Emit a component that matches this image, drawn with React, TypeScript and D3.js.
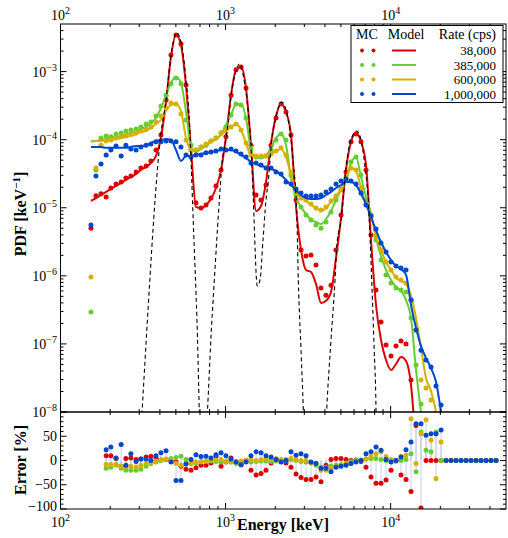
import React from 'react';
import * as d3 from 'd3';

// Energy bin centres (keV) of the MC histograms / model evaluation grid
const energyKeV = [153, 164, 176, 189, 202, 217, 233, 249, 267, 287, 307, 330, 353, 379, 406, 436, 467, 501, 537, 576, 618, 662, 710, 761, 816, 875, 939, 1006, 1079, 1157, 1241, 1330, 1426, 1530, 1640, 1758, 1886, 2022, 2168, 2324, 2492, 2672, 2865, 3072, 3294, 3532, 3787, 4060, 4354, 4668, 5005, 5367, 5755, 6170, 6616, 7094, 7606, 8155, 8745, 9377, 10055, 10782, 11561, 12396, 13291, 14252, 15281, 16385, 17569, 18838, 20199, 21658, 23224, 24901, 26700, 28629, 30698, 32915, 35294, 37844, 40577, 43509];

// Rates (legend)
const rateLabels = ['38,000', '385,000', '600,000', '1,000,000'];

// MC PDFs [keV^-1]
const redMc = [5.0e-6, 1.5e-5, 1.6e-5, 1.44e-5, 1.95e-5, 2.24e-5, 2.39e-5, 2.74e-5, 2.93e-5, 3.36e-5,
  3.84e-5, 4.11e-5, 4.87e-5, 7.06e-5, 1.17e-4, 3.83e-4, 1.75e-3, 3.45e-3, 2.55e-3, 6.36e-4,
  7.06e-5, 1.18e-5, 9.9e-6, 1.1e-5, 1.39e-5, 2.09e-5, 3.6e-5, 1.1e-4, 4.5e-4, 1.06e-3,
  1.17e-3, 5.75e-4, 8.3e-5, 1.54e-5, 1.3e-5, 2.16e-5, 8.3e-5, 2.08e-4, 3.35e-4, 2.55e-4,
  1.17e-4, 1.3e-5, 2.4e-6, 1.95e-6, 2.02e-6, 1.44e-6, 6.6e-7, 5.2e-7, 7.3e-7, 2.4e-6,
  7.8e-6, 3.36e-5, 9.3e-5, 1.21e-4, 9.3e-5, 3.6e-5, 3.97e-6, 6.2e-7, 2.1e-7, 9.6e-8,
  6.65e-8, 9.3e-8, 1.1e-7, 1.0e-7, 2.95e-8];
const greenMc = [2.94e-7, 3.6e-5, 1.06e-4, 1.13e-4, 1.1e-4, 1.21e-4, 1.25e-4, 1.34e-4, 1.39e-4, 1.44e-4,
  1.54e-4, 1.7e-4, 1.82e-4, 2.23e-4, 3.13e-4, 4.5e-4, 6.6e-4, 8.06e-4, 6.6e-4, 1.95e-4,
  8.3e-5, 7.06e-5, 7.8e-5, 8.3e-5, 9.6e-5, 1.06e-4, 1.25e-4, 1.54e-4, 2.31e-4, 3.35e-4,
  3.24e-4, 2.08e-4, 7.6e-5, 5.57e-5, 5.57e-5, 5.77e-5, 7.06e-5, 9.9e-5, 1.21e-4, 9.9e-5,
  3.03e-5, 1.54e-5, 1.03e-5, 7.8e-6, 6.6e-6, 5.57e-6, 5.0e-6, 6.17e-6, 8.66e-6, 1.3e-5,
  1.83e-5, 2.56e-5, 4.7e-5, 5.57e-5, 3.03e-5, 1.3e-5, 7.8e-6, 3.36e-6, 1.71e-6, 1.03e-6,
  7.85e-7, 6.6e-7, 6.2e-7, 5.8e-7, 2.4e-7, 4.9e-8, 1.31e-8];
const yellowMc = [9.6e-7, 3.84e-5, 8.3e-5, 9.6e-5, 9.9e-5, 1.06e-4, 1.1e-4, 1.13e-4, 1.21e-4, 1.25e-4,
  1.34e-4, 1.44e-4, 1.54e-4, 1.82e-4, 2.23e-4, 2.92e-4, 3.46e-4, 3.35e-4, 2.39e-4, 9.9e-5,
  7.06e-5, 7.06e-5, 7.8e-5, 8.66e-5, 9.6e-5, 1.06e-4, 1.25e-4, 1.39e-4, 1.54e-4, 1.7e-4,
  1.39e-4, 8.95e-5, 5.97e-5, 5.77e-5, 5.77e-5, 5.77e-5, 6.17e-5, 6.8e-5, 7.6e-5, 5.97e-5,
  3.36e-5, 1.83e-5, 1.39e-5, 1.3e-5, 1.14e-5, 9.9e-6, 9.3e-6, 1.03e-5, 1.26e-5, 1.49e-5,
  1.95e-5, 2.74e-5, 3.84e-5, 3.6e-5, 1.95e-5, 1.14e-5, 7.55e-6, 3.84e-6, 2.4e-6, 1.6e-6,
  1.22e-6, 9.6e-7, 8.7e-7, 7.85e-7, 4.4e-7, 1.6e-7, 2.95e-8, 2.25e-8, 1.5e-8];
const blueMc = [5.57e-6, 2.93e-5, 4.4e-5, 5.97e-5, 7.06e-5, 8.1e-5, 5.77e-5, 8.3e-5, 7.3e-5, 7.06e-5,
  7.8e-5, 8.3e-5, 8.66e-5, 9.3e-5, 9.3e-5, 9.6e-5, 9.6e-5, 9.3e-5, 7.8e-5, 5.97e-5,
  5.57e-5, 5.97e-5, 5.97e-5, 6.4e-5, 6.6e-5, 6.8e-5, 7.3e-5, 7.06e-5, 7.3e-5, 6.8e-5,
  6.17e-5, 5.57e-5, 4.55e-5, 4.55e-5, 4.25e-5, 3.84e-5, 3.84e-5, 3.36e-5, 3.14e-5, 2.39e-5,
  2.24e-5, 1.89e-5, 1.65e-5, 1.49e-5, 1.49e-5, 1.49e-5, 1.54e-5, 1.71e-5, 1.89e-5, 2.24e-5,
  2.48e-5, 2.65e-5, 2.48e-5, 2.24e-5, 1.65e-5, 1.1e-5, 7.55e-6, 4.87e-6, 3.03e-6, 2.24e-6,
  1.6e-6, 1.39e-6, 1.3e-6, 1.22e-6, 4.4e-7, 1.6e-7, 8.1e-8, 5.8e-8, 4.6e-8, 2.4e-8,
  1.27e-8];

// Model PDFs [keV^-1]
const redModel = [1.26e-5, 1.39e-5, 1.54e-5, 1.71e-5, 1.89e-5, 2.09e-5, 2.31e-5, 2.56e-5, 2.83e-5, 3.14e-5,
  3.6e-5, 3.97e-5, 4.55e-5, 5.77e-5, 1.06e-4, 3.58e-4, 1.64e-3, 3.45e-3, 2.46e-3, 6.15e-4,
  7.06e-5, 1.03e-5, 9.9e-6, 1.1e-5, 1.35e-5, 1.95e-5, 3.6e-5, 1.1e-4, 4.5e-4, 1.06e-3,
  1.17e-3, 5.75e-4, 8.3e-5, 8.95e-6, 1.06e-5, 2.39e-5, 8.95e-5, 2.23e-4, 3.35e-4, 2.55e-4,
  1.17e-4, 1.03e-5, 2.4e-6, 1.22e-6, 1.14e-6, 7.6e-7, 4.0e-7, 4.3e-7, 5.8e-7, 1.83e-6,
  7.1e-6, 3.6e-5, 9.3e-5, 1.25e-4, 9.3e-5, 4.25e-5, 3.36e-6, 3.73e-7, 1.14e-7, 5.8e-8,
  4.14e-8, 5.07e-8, 6.4e-8, 5.6e-8, 2.5e-8, 2.8e-9];
const greenModel = [9.3e-5, 9.6e-5, 9.9e-5, 1.02e-4, 1.06e-4, 1.1e-4, 1.13e-4, 1.21e-4, 1.25e-4, 1.34e-4,
  1.44e-4, 1.54e-4, 1.76e-4, 2.08e-4, 2.92e-4, 4.5e-4, 6.8e-4, 8.3e-4, 6.8e-4, 2.55e-4,
  7.6e-5, 6.6e-5, 7.3e-5, 8.1e-5, 9.3e-5, 1.02e-4, 1.21e-4, 1.64e-4, 2.31e-4, 3.35e-4,
  3.35e-4, 2.08e-4, 7.06e-5, 5.4e-5, 5.4e-5, 5.77e-5, 7.6e-5, 1.06e-4, 1.21e-4, 8.3e-5,
  2.74e-5, 1.39e-5, 1.03e-5, 8.1e-6, 6.6e-6, 6.17e-6, 5.77e-6, 6.8e-6, 8.95e-6, 1.3e-5,
  1.83e-5, 2.48e-5, 4.55e-5, 5.57e-5, 2.83e-5, 1.44e-5, 8.3e-6, 3.6e-6, 1.95e-6, 1.22e-6,
  8.7e-7, 6.85e-7, 6.0e-7, 4.4e-7, 2.4e-7, 4.14e-8, 1.0e-8, 2.8e-9];
const yellowModel = [9.6e-5, 9.6e-5, 9.6e-5, 9.9e-5, 9.9e-5, 1.02e-4, 1.06e-4, 1.1e-4, 1.13e-4, 1.21e-4,
  1.3e-4, 1.34e-4, 1.49e-4, 1.7e-4, 1.95e-4, 2.64e-4, 3.24e-4, 3.35e-4, 2.64e-4, 1.06e-4,
  7.06e-5, 6.8e-5, 7.6e-5, 8.3e-5, 9.6e-5, 1.02e-4, 1.17e-4, 1.34e-4, 1.54e-4, 1.7e-4,
  1.39e-4, 8.95e-5, 5.77e-5, 5.57e-5, 5.57e-5, 5.77e-5, 6.17e-5, 6.8e-5, 7.3e-5, 5.57e-5,
  3.03e-5, 1.71e-5, 1.39e-5, 1.26e-5, 1.1e-5, 9.9e-6, 8.95e-6, 9.9e-6, 1.22e-5, 1.49e-5,
  1.89e-5, 2.74e-5, 3.84e-5, 3.48e-5, 1.95e-5, 1.1e-5, 7.55e-6, 3.84e-6, 2.4e-6, 1.6e-6,
  1.22e-6, 9.3e-7, 8.4e-7, 7.6e-7, 5.05e-7, 2.4e-7, 8.7e-8, 3.16e-8, 2.03e-8, 1.0e-8,
  2.8e-9];
const blueModel = [7.8e-5, 7.8e-5, 7.8e-5, 7.6e-5, 7.6e-5, 7.6e-5, 7.6e-5, 7.6e-5, 7.8e-5, 8.1e-5,
  8.1e-5, 8.3e-5, 8.95e-5, 9.6e-5, 9.9e-5, 1.02e-4, 9.9e-5, 7.06e-5, 4.87e-5, 5.77e-5,
  5.77e-5, 5.97e-5, 6.17e-5, 6.4e-5, 6.6e-5, 6.8e-5, 7.06e-5, 7.06e-5, 7.06e-5, 6.6e-5,
  5.97e-5, 5.4e-5, 4.7e-5, 4.4e-5, 4.11e-5, 3.97e-5, 3.72e-5, 3.48e-5, 3.03e-5, 2.56e-5,
  2.16e-5, 1.83e-5, 1.54e-5, 1.39e-5, 1.35e-5, 1.35e-5, 1.39e-5, 1.54e-5, 1.71e-5, 1.95e-5,
  2.16e-5, 2.39e-5, 2.39e-5, 2.16e-5, 1.6e-5, 1.14e-5, 7.3e-6, 4.7e-6, 3.14e-6, 2.24e-6,
  1.71e-6, 1.39e-6, 1.26e-6, 1.03e-6, 3.73e-7, 1.71e-7, 9.3e-8, 6.2e-8, 4.4e-8, 2.76e-8,
  1.0e-8, 2.8e-9];

// Ideal (zero pile-up) spectrum, dashed
const idealEnergyKeV = [303, 339, 374, 401, 436, 467, 506, 545, 576, 601, 638, 671, 710, 740, 828, 917, 948, 1016, 1090, 1168, 1211, 1312, 1373, 1440, 1473, 1557, 1617, 1686, 1758, 1815, 1903, 2021, 2188, 2347, 2457, 2573, 2698, 2759, 2865, 2958, 3008, 4004, 4100, 4353, 4603, 4713, 5052, 5290, 5675, 6231, 6680, 6995, 7324, 7681, 7931, 8155, 8213];
const idealPdf = [2.8e-9, 3.15e-7, 1.3e-5, 9.6e-5, 3.83e-4, 1.75e-3, 3.69e-3, 2.3e-3, 7.5e-4, 2.31e-4, 5.77e-6, 2.24e-7, 2.8e-9, 2.8e-9, 2.4e-7, 1.3e-5, 3.97e-5, 1.21e-4, 5.2e-4, 1.09e-3, 1.29e-3, 6.15e-4, 2.55e-4, 5.0e-5, 1.3e-5, 7.1e-7, 8.7e-7, 3.36e-6, 1.3e-5, 2.48e-5, 9.6e-5, 2.16e-4, 3.58e-4, 2.47e-4, 1.34e-4, 4.4e-5, 8.95e-6, 8.7e-7, 8.1e-8, 1.07e-8, 2.8e-9, 2.8e-9, 1.07e-8, 1.14e-7, 8.7e-7, 2.65e-6, 7.55e-6, 2.83e-5, 8.95e-5, 1.34e-4, 8.95e-5, 3.97e-5, 1.3e-5, 8.7e-7, 9.6e-8, 1.07e-8, 2.8e-9];

// Relative error (model vs MC) [%], from the 4th energy bin onwards
const redErr = [10, 10, 4, -12, 4, 5, 2, 3, 7, 9, 5, 1, 2, 0, -3, -12, -18, -20, -15, -10, -10, -5, 8, -12, -3, 5, -5, -9, 0, -20, -30, -27, -20, -5, 3, 0, -5, -14, -28, -35, -39, -39, -34, -44, -10, 2, 4, 4, 2, 0, 1, -2, -14, -34, -47, -47, -40, -20, 0, -30, -39, -64, 72, -98, 0, 0, 0, 0, 0, 0, 0, 0, 0, 0, 0, 0, 0, 0, 0];
const greenErr = [-16, -14, -8, -16, -20, -20, -20, -18, -12, -6, -3, 0, 2, 4, 6, 9, 2, -6, -5, -3, -2, -1, -2, -3, -2, -3, -5, -4, -2, -3, -2, -1, -1, -2, -1, -1, 0, 2, 0, -2, -3, -5, -10, -14, -14, -12, -10, -8, -5, -2, 0, 1, 3, 4, 4, 2, 0, 0, 0, 0, 2, 14, -23, 59, 21, 18, 59, 0, 0, 0, 0, 0, 0, 0, 0, 0, 0, 0, 0];
const yellowErr = [-8, -8, -10, -12, -14, -12, -14, -10, -6, -4, -1, 1, 3, 0, -6, -10, -5, -5, -3, -2, -1, 0, 1, 2, -2, -3, -2, -1, 0, 1, 0, 2, 3, 2, 3, 2, 2, 4, 1, 0, 0, -4, -6, -20, -20, -16, -13, -10, -8, -6, -2, 0, 3, 8, 14, 18, 8, 2, -2, 8, 11, 86, -6, 55, 84, 42, -37, 38, 0, 0, 0, 0, 0, 0, 0, 0, 0, 0, 0];
const blueErr = [22, 28, 5, 33, -10, 14, -2, 3, 3, 0, 10, 16, 20, -3, -41, -41, -7, 2, 12, 8, 9, 5, 12, 16, 10, 3, -3, -9, -3, 10, 18, 16, 10, 7, 2, -3, 0, 18, 11, 14, 10, -3, -6, -16, -16, -23, -14, -12, -10, -6, -3, 0, 14, 18, 28, 21, 2, -3, 0, 7, 22, 38, 76, 76, 52, 55, 55, 63, 0, 0, 0, 0, 0, 0, 0, 0, 0, 0, 0];

// Axis ticks
const xMajorExps = [2, 3, 4];
const yMajorExps = [-8, -7, -6, -5, -4, -3];
const errTickValues = [-100, -50, 0, 50];

const COLORS = ['#dd0000', '#66cc33', '#d4b000', '#0047cc'];
const FONT = '"Liberation Serif", "Times New Roman", "DejaVu Serif", serif';

export default function App() {
  const W = 508, H = 538;
  const L = 60.5, R = 506, T = 24, B = 412, B2 = 509;
  const x = d3.scaleLog().domain([100, 5e4]).range([L, R]);
  const y = d3.scaleLog().domain([1e-8, 5e-3]).range([B, T]);
  const ye = d3.scaleLinear().domain([-100, 100]).range([B2, B]);

  const errEnergy = energyKeV.slice(3);
  const series = [
    { mc: redMc, model: redModel, err: redErr },
    { mc: greenMc, model: greenModel, err: greenErr },
    { mc: yellowMc, model: yellowModel, err: yellowErr },
    { mc: blueMc, model: blueModel, err: blueErr },
  ];

  const line = d3.line<[number, number]>()
    .x(d => x(d[0]))
    .y(d => y(d[1]))
    .curve(d3.curveMonotoneX);

  // minor ticks
  const xMinor: number[] = [];
  xMajorExps.forEach(e => { for (let m = 2; m <= 9; m++) { const v = m * Math.pow(10, e); if (v < 5e4) xMinor.push(v); } });
  const yMinor: number[] = [];
  yMajorExps.forEach(e => { for (let m = 2; m <= 9; m++) { const v = m * Math.pow(10, e); if (v < 5e-3) yMinor.push(v); } });
  const errMinor = d3.range(-90, 100, 10).filter(v => v % 50 !== 0);

  const MAJ = 6, MIN = 3;
  const ax = { stroke: '#000', strokeWidth: 1 };

  const sup = (base: string, exp: string) => (
    <>
      {base}
      <tspan dy={-6} fontSize={10}>{exp}</tspan>
    </>
  );

  // "10^e" label built from two separate texts, centred on cx
  const decadeLabel = (key: string, cx: number, baseline: number, e: number) => (
    <g key={key}>
      <text x={cx + 4.5} y={baseline} textAnchor="end">10</text>
      <text x={cx + 4.5} y={baseline - 6} fontSize={10}>{String(e)}</text>
    </g>
  );

  return (
    <svg width={W} height={H} style={{ position: 'absolute', left: 0, top: 0, background: '#fff' }}
      fontFamily={FONT}>
      <defs>
        <clipPath id="clipTop"><rect x={L} y={T} width={R - L} height={B - T} /></clipPath>
        <clipPath id="clipBot"><rect x={L} y={B} width={R - L} height={B2 - B} /></clipPath>
      </defs>

      {/* ---------- top panel data ---------- */}
      <g clipPath="url(#clipTop)">
        {series.map((s, i) => (
          <g key={'s' + i}>
            {s.mc.map((v, j) => (
              <circle key={j} cx={x(energyKeV[j])} cy={y(v)} r={2.5} fill={COLORS[i]} />
            ))}
            <path d={line(s.model.map((v, j) => [energyKeV[j], v] as [number, number])) || ''}
              fill="none" stroke={COLORS[i]} strokeWidth={2} />
          </g>
        ))}
        <path d={line(idealEnergyKeV.map((e, j) => [e, idealPdf[j]] as [number, number])) || ''}
          fill="none" stroke="#000" strokeWidth={1.1} strokeDasharray="4,3" />
      </g>

      {/* ---------- bottom panel data ---------- */}
      <g clipPath="url(#clipBot)">
        {series.map((s, i) => s.err.map((v, j) => (
          <line key={'st' + i + '_' + j} x1={x(errEnergy[j])} x2={x(errEnergy[j])} y1={ye(0)} y2={ye(v)}
            stroke="#ccccea" strokeWidth={1} />
        )))}
        {series.map((s, i) => (
          <g key={'e' + i}>
            {s.err.map((v, j) => (
              <circle key={j} cx={x(errEnergy[j])} cy={ye(v)} r={2.5} fill={COLORS[i]} />
            ))}
          </g>
        ))}
      </g>

      {/* ---------- frames ---------- */}
      <rect x={L} y={T} width={R - L} height={B - T} fill="none" {...ax} />
      <rect x={L} y={B} width={R - L} height={B2 - B} fill="none" {...ax} />

      {/* x ticks (inward) */}
      {[T, B].map((yy, k) => (
        <g key={'xt' + k}>
          {xMajorExps.map(e => {
            const v = Math.pow(10, e);
            return <line key={e} x1={x(v)} x2={x(v)} y1={yy} y2={yy + MAJ} {...ax} />;
          })}
          {xMinor.map(v => <line key={v} x1={x(v)} x2={x(v)} y1={yy} y2={yy + MIN} {...ax} />)}
        </g>
      ))}
      {[B, B2].map((yy, k) => (
        <g key={'xb' + k}>
          {xMajorExps.map(e => {
            const v = Math.pow(10, e);
            return <line key={e} x1={x(v)} x2={x(v)} y1={yy} y2={yy - MAJ} {...ax} />;
          })}
          {xMinor.map(v => <line key={v} x1={x(v)} x2={x(v)} y1={yy} y2={yy - MIN} {...ax} />)}
        </g>
      ))}

      {/* y ticks top panel */}
      {yMajorExps.map(e => {
        const v = Math.pow(10, e);
        return <g key={'ym' + e}>
          <line x1={L} x2={L + MAJ} y1={y(v)} y2={y(v)} {...ax} />
          <line x1={R} x2={R - MAJ} y1={y(v)} y2={y(v)} {...ax} />
        </g>;
      })}
      {yMinor.map(v => (
        <g key={'yn' + v}>
          <line x1={L} x2={L + MIN} y1={y(v)} y2={y(v)} {...ax} />
          <line x1={R} x2={R - MIN} y1={y(v)} y2={y(v)} {...ax} />
        </g>
      ))}

      {/* y ticks bottom panel */}
      {errTickValues.concat([100]).map(v => (
        <g key={'em' + v}>
          <line x1={L} x2={L + MAJ} y1={ye(v)} y2={ye(v)} {...ax} />
          <line x1={R} x2={R - MAJ} y1={ye(v)} y2={ye(v)} {...ax} />
        </g>
      ))}
      {errMinor.map(v => (
        <g key={'en' + v}>
          <line x1={L} x2={L + MIN} y1={ye(v)} y2={ye(v)} {...ax} />
          <line x1={R} x2={R - MIN} y1={ye(v)} y2={ye(v)} {...ax} />
        </g>
      ))}

      {/* tick labels */}
      <g fontSize={14} fill="#000">
        {xMajorExps.map(e => (
          <text key={'tl' + e} x={x(Math.pow(10, e))} y={20} textAnchor="middle">{sup('10', String(e))}</text>
        ))}
        {xMajorExps.map(e => decadeLabel('bl' + e, x(Math.pow(10, e)), 527, e))}
        {yMajorExps.map(e => (
          <text key={'yl' + e} x={57} y={y(Math.pow(10, e)) + 5} textAnchor="end">{sup('10', '\u2212' + Math.abs(e))}</text>
        ))}
        {errTickValues.map(v => (
          <text key={'el' + v} x={57} y={Math.min(ye(v) + 4.5, 510.5)} textAnchor="end">{v < 0 ? '\u2212' + Math.abs(v) : String(v)}</text>
        ))}
      </g>

      {/* axis titles */}
      <g fontSize={16} fontWeight="bold" fill="#000">
        <text x={283} y={530} textAnchor="middle">Energy [keV]</text>
        <text transform="translate(26,214) rotate(-90)" textAnchor="middle">
          PDF [keV<tspan dy={-6} fontSize={11}>{'\u2212'}1</tspan><tspan dy={6}>]</tspan>
        </text>
        <text transform="translate(26,460) rotate(-90)" textAnchor="middle">Error [%]</text>
      </g>

      {/* legend */}
      <g fontSize={13} fill="#000">
        <rect x={351} y={25.5} width={152} height={77} fill="#fff" stroke="#000" strokeWidth={1} />
        <text x={367} y={38.5} fontSize={14} textAnchor="middle">MC</text>
        <text x={406} y={38.5} fontSize={14} textAnchor="middle">Model</text>
        <text x={496} y={38.5} fontSize={14} textAnchor="end">Rate (cps)</text>
        {rateLabels.map((lab, i) => {
          const cy = 50.5 + i * 14.5;
          return <g key={'lg' + i}>
            <circle cx={362} cy={cy} r={2} fill={COLORS[i]} />
            <circle cx={373.5} cy={cy} r={2} fill={COLORS[i]} />
            <line x1={392} x2={416} y1={cy} y2={cy} stroke={COLORS[i]} strokeWidth={2} />
            <text x={496} y={cy + 4.5} textAnchor="end">{lab}</text>
          </g>;
        })}
      </g>
    </svg>
  );
}
